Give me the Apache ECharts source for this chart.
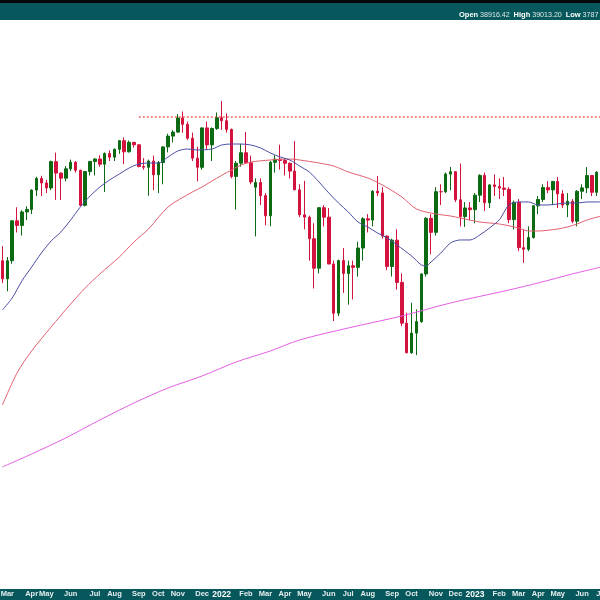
<!DOCTYPE html>
<html>
<head>
<meta charset="utf-8">
<script src="https://cdn.jsdelivr.net/npm/echarts@6/dist/echarts.min.js"></script>
<style>
html,body{margin:0;padding:0;background:#fff;}
#chart{width:600px;height:600px;}
</style>
</head>
<body>
<div id="chart"></div>
<script>
// Weekly bars (week starting Monday)
const weeks = [
'2021-02-22','2021-03-01','2021-03-08','2021-03-15','2021-03-22','2021-03-29','2021-04-05','2021-04-12','2021-04-19','2021-04-26',
'2021-05-03','2021-05-10','2021-05-17','2021-05-24','2021-05-31','2021-06-07','2021-06-14','2021-06-21','2021-06-28','2021-07-05',
'2021-07-12','2021-07-19','2021-07-26','2021-08-02','2021-08-09','2021-08-16','2021-08-23','2021-08-30','2021-09-06','2021-09-13',
'2021-09-20','2021-09-27','2021-10-04','2021-10-11','2021-10-18','2021-10-25','2021-11-01','2021-11-08','2021-11-15','2021-11-22',
'2021-11-29','2021-12-06','2021-12-13','2021-12-20','2021-12-27','2022-01-03','2022-01-10','2022-01-17','2022-01-24','2022-01-31',
'2022-02-07','2022-02-14','2022-02-21','2022-02-28','2022-03-07','2022-03-14','2022-03-21','2022-03-28','2022-04-04','2022-04-11',
'2022-04-18','2022-04-25','2022-05-02','2022-05-09','2022-05-16','2022-05-23','2022-05-30','2022-06-06','2022-06-13','2022-06-20',
'2022-06-27','2022-07-04','2022-07-11','2022-07-18','2022-07-25','2022-08-01','2022-08-08','2022-08-15','2022-08-22','2022-08-29',
'2022-09-05','2022-09-12','2022-09-19','2022-09-26','2022-10-03','2022-10-10','2022-10-17','2022-10-24','2022-10-31','2022-11-07',
'2022-11-14','2022-11-21','2022-11-28','2022-12-05','2022-12-12','2022-12-19','2022-12-26','2023-01-02','2023-01-09','2023-01-16',
'2023-01-23','2023-01-30','2023-02-06','2023-02-13','2023-02-20','2023-02-27','2023-03-06','2023-03-13','2023-03-20','2023-03-27',
'2023-04-03','2023-04-10','2023-04-17','2023-04-24','2023-05-01','2023-05-08','2023-05-15','2023-05-22','2023-05-29','2023-06-05',
'2023-06-12','2023-06-19','2023-06-26','2023-07-03'];

const openP = [
31494,30932,31496,32779,32628,33072,33153,33801,34200,34043,
33875,34778,34382,34208,34529,34756,34480,33290,34434,34786,
34870,34688,35062,34935,35209,35515,35120,35456,35369,34608,
34584,34798,34326,34746,35295,35677,35820,36328,36100,35602,
34899,34580,35971,35365,35950,36338,36231,35912,34265,34725,
35089,34738,33900,34059,33615,32944,34755,34862,34818,34721,
34451,33811,32977,32899,32197,31262,33213,32900,31393,29888,
31501,31097,31338,31288,31899,32845,32803,33761,33707,32283,
31318,32152,30822,29590,28726,29297,29635,31083,32862,32403,
33748,33746,34347,34430,33476,32920,33204,33147,33631,34303,
33375,33978,33926,33869,33827,32817,33391,31910,31862,32238,
33274,33485,33886,33809,34098,33674,33301,33427,32765,33762,
33877,34299,33727,34408];

const closeP = [
30932,31496,32779,32628,33072,33153,33801,34200,34043,33875,
34778,34382,34208,34529,34756,34480,33290,34434,34786,34870,
34688,35062,34935,35209,35515,35120,35456,35369,34608,34584,
34798,34326,34746,35295,35677,35820,36328,36100,35602,34899,
34580,35971,35365,35950,36338,36231,35912,34265,34725,35089,
34738,34079,34059,33615,32944,34755,34862,34818,34721,34451,
33811,32977,32899,32197,31262,33213,32900,31393,29888,31501,
31097,31338,31288,31899,32845,32803,33761,33707,32283,31318,
32152,30822,29590,28726,29297,29635,31083,32862,32403,33748,
33746,34347,34430,33476,32920,33204,33147,33631,34303,33375,
33978,33926,33869,33827,32817,33391,31910,31862,32238,33274,
33485,33886,33809,34098,33674,33301,33427,32765,33762,33877,
34299,33727,34408,33734];

const lowP = [
30800,30547,31400,32400,32300,32800,33000,33600,33600,33700,
33800,33473,33470,34100,34450,34400,33270,33250,34300,34300,
34600,33740,34800,34800,35050,34690,35100,35270,34580,34500,
33613,33800,33700,34000,35100,35450,35800,35800,35540,34800,
34100,34500,35200,34800,35900,35900,35800,34200,33150,34600,
34700,34000,32272,33300,32632,32600,34400,34500,34300,34200,
33800,32900,32500,31500,30635,31100,32600,31390,29653,29800,
30500,30143,30300,31000,31500,32400,32600,33600,32200,31200,
31000,30600,29500,28715,28700,28660,29600,31000,31700,32300,
33300,33700,33800,33400,32600,32580,32800,32700,33400,33100,
33200,33600,33500,33600,32700,32500,31800,31430,31800,32200,
33000,33400,33700,33300,33200,33200,32900,32700,32600,33500,
33700,33600,33600,33700];

const highP = [
31961,31613,32793,33227,33130,33260,33830,34256,34290,34150,
34811,35092,34400,34630,34850,34800,34500,34450,34800,34900,
35000,35100,35171,35240,35540,35630,35520,35460,35370,34900,
34850,34990,34800,35310,35765,35892,36471,36565,36200,35800,
35300,35990,36200,35990,36530,36952,36500,35950,34800,35400,
35824,34990,34200,34200,33700,34800,35000,35372,34900,34750,
35500,34000,34117,32950,32700,33220,33300,33200,31500,31530,
31900,31500,31500,32100,32900,33000,33800,34281,33900,32300,
32200,32500,31100,29900,30200,30000,31100,32900,33000,33900,
34000,34400,34595,34450,34712,33400,33400,33700,34342,34400,
34000,34334,34200,34250,33900,33450,33500,32500,32600,33300,
33600,34000,34100,34100,34250,33800,33700,33500,33800,34000,
34588,34300,34450,34500];

const maBlue = [
['2021-02-22',29983],['2021-03-08',30345],['2021-03-22',30866],['2021-04-05',31301],['2021-04-19',31741],
['2021-05-03',32125],['2021-05-17',32416],['2021-05-31',32807],['2021-06-14',33236],['2021-06-28',33604],
['2021-07-12',33907],['2021-07-26',34145],['2021-08-09',34351],['2021-08-23',34557],['2021-09-06',34696],
['2021-09-20',34730],['2021-10-04',34730],['2021-10-18',34940],['2021-11-01',35150],['2021-11-15',35220],
['2021-11-29',35185],['2021-12-20',35220],['2022-01-03',35361],['2022-01-17',35396],['2022-01-31',35396],
['2022-02-14',35361],['2022-02-28',35256],['2022-03-14',35080],['2022-03-28',34940],['2022-04-11',34835],
['2022-04-25',34626],['2022-05-09',34420],['2022-05-23',34077],['2022-06-06',33705],['2022-06-20',33369],
['2022-07-04',33070],['2022-07-18',32741],['2022-08-01',32578],['2022-08-15',32383],['2022-08-29',32222],
['2022-09-12',31997],['2022-10-03',31646],['2022-10-17',31363],['2022-10-24',31332],['2022-10-31',31458],
['2022-11-14',31741],['2022-11-28',32061],['2022-12-12',32157],['2022-12-26',32157],['2023-01-09',32318],
['2023-01-23',32545],['2023-02-06',32807],['2023-02-13',33070],['2023-02-20',33303],['2023-03-06',33403],
['2023-03-20',33403],['2023-04-03',33303],['2023-04-17',33303],['2023-05-01',33336],['2023-05-15',33369],
['2023-05-29',33369],['2023-06-12',33403],['2023-06-26',33403],['2023-07-03',33403]];

const maRed = [
['2021-02-22',27266],['2021-03-15',28153],['2021-04-05',28779],['2021-05-03',29478],['2021-05-31',30163],
['2021-06-21',30650],['2021-07-12',31083],['2021-08-09',31615],['2021-08-30',32093],['2021-09-20',32513],
['2021-10-18',33236],['2021-11-22',33738],['2021-12-06',33907],['2021-12-20',34111],['2022-01-17',34488],
['2022-01-31',34661],['2022-02-14',34765],['2022-03-14',34835],['2022-04-11',34870],['2022-04-25',34835],
['2022-05-23',34730],['2022-06-13',34626],['2022-07-04',34420],['2022-08-01',34213],['2022-08-22',33975],
['2022-09-19',33570],['2022-10-10',33169],['2022-11-07',33004],['2022-11-28',32938],['2022-12-12',32872],
['2023-01-09',32741],['2023-02-06',32676],['2023-03-06',32545],['2023-03-20',32448],['2023-04-03',32448],
['2023-05-01',32513],['2023-05-15',32578],['2023-05-29',32676],['2023-06-12',32807],['2023-07-03',32938]];

const maMagenta = [
['2021-02-22',25627],['2021-04-05',25962],['2021-05-24',26381],['2021-07-12',26860],['2021-08-30',27320],
['2021-10-18',27733],['2021-12-06',28068],['2022-01-24',28464],['2022-03-14',28779],['2022-04-25',29097],
['2022-07-04',29448],['2022-09-19',29804],['2022-11-28',30194],['2023-02-20',30589],['2023-04-03',30804],
['2023-05-22',31083],['2023-07-03',31301]];

// Horizontal resistance level (dotted)
const resistStart = '2021-09-06';
const resistEnd = '2023-07-03';
const resistLevel = 36366;

// Month labels along the bottom band
const tickWeeks = ['2021-03-01','2021-04-05','2021-04-26','2021-05-31','2021-07-05','2021-08-02','2021-09-06','2021-10-04','2021-11-01','2021-12-06',
'2022-01-03','2022-02-07','2022-03-07','2022-04-04','2022-05-02','2022-06-06','2022-07-04','2022-08-01','2022-09-05','2022-10-03','2022-11-07','2022-12-05',
'2023-01-02','2023-02-06','2023-03-06','2023-04-03','2023-05-01','2023-06-05','2023-07-03'];
const tickLabels = ['Mar','Apr','May','Jun','Jul','Aug','Sep','Oct','Nov','Dec',
'2022','Feb','Mar','Apr','May','Jun','Jul','Aug','Sep','Oct','Nov','Dec',
'2023','Feb','Mar','Apr','May','Jun','Jul'];

const headerText = '{b|Open} {v|38916.42}  {b|High} {v|39013.20}  {b|Low} {v|3787}';

const labelMap = {};
tickWeeks.forEach((w, i) => { labelMap[w] = tickLabels[i]; });

const ohlc = weeks.map((w, i) => [openP[i], closeP[i], lowP[i], highP[i]]);

const TEAL = '#07585c';
const chart = echarts.init(document.getElementById('chart'), null, {renderer: 'canvas'});
chart.setOption({
  animation: false,
  backgroundColor: '#ffffff',
  grid: {left: 0, top: 20, width: 604, height: 568, containLabel: false, outerBoundsMode: 'none'},
  xAxis: {
    type: 'category',
    data: weeks,
    boundaryGap: true,
    axisLine: {show: false},
    axisTick: {show: false},
    splitLine: {show: false},
    z: 10,
    axisLabel: {
      interval: 0,
      margin: 2,
      color: '#ffffff',
      fontFamily: 'Liberation Sans',
      fontSize: 7.5,
      fontWeight: 'bold',
      hideOverlap: false,
      formatter: function (v) {
        const t = labelMap[v];
        if (!t) return '';
        return /^\d{4}$/.test(t) ? '{y|' + t + '}' : '{m|' + t + '}';
      },
      rich: {
        m: {fontSize: 7.5, fontWeight: 'bold', color: '#e6eeee', fontFamily: 'Liberation Sans'},
        y: {fontSize: 8.5, fontWeight: 'bold', color: '#ffffff', fontFamily: 'Liberation Sans'}
      }
    }
  },
  yAxis: {
    type: 'log',
    logBase: 10,
    min: 22705,
    max: 40070,
    show: false,
    splitLine: {show: false}
  },
  graphic: [
    {type: 'rect', z: -1, shape: {x: 0, y: 0, width: 600, height: 20}, style: {fill: TEAL}},
    {type: 'rect', z: -1, shape: {x: 0, y: 0, width: 600, height: 3}, style: {fill: '#050808'}},
    {type: 'rect', z: -1, shape: {x: 0, y: 589, width: 600, height: 11}, style: {fill: TEAL}},
    {type: 'text', z: 20, style: {
      x: 459, y: 15, verticalAlign: 'middle', text: headerText,
      font: '7px "Liberation Sans"', fill: '#ffffff',
      rich: {
        b: {fontSize: 7.5, fontWeight: 'bold', fill: '#ffffff', fontFamily: 'Liberation Sans'},
        v: {fontSize: 7.1, fill: '#dfe8e8', fontFamily: 'Liberation Sans'}
      }
    }}
  ],
  series: [
    {
      type: 'candlestick',
      data: ohlc,
      barWidth: 3,
      itemStyle: {
        color: '#0b6a12', color0: '#d3123d',
        borderColor: '#0b6a12', borderColor0: '#d3123d', borderWidth: 1
      },
      z: 2
    },
    {
      type: 'line', data: maMagenta, symbol: 'none', smooth: 0.3,
      lineStyle: {color: '#e45ee4', width: 1}, z: 3
    },
    {
      type: 'line', data: maRed, symbol: 'none', smooth: 0.3,
      lineStyle: {color: '#e0606e', width: 1}, z: 3
    },
    {
      type: 'line', data: maBlue, symbol: 'none', smooth: 0.3,
      lineStyle: {color: '#4a4fa3', width: 1}, z: 3
    },
    {
      type: 'line', data: [[resistStart, resistLevel], [resistEnd, resistLevel]], symbol: 'none',
      lineStyle: {color: '#e01a1a', width: 1.2, type: [2, 2]}, z: 4
    }
  ]
});
</script>
</body>
</html>
